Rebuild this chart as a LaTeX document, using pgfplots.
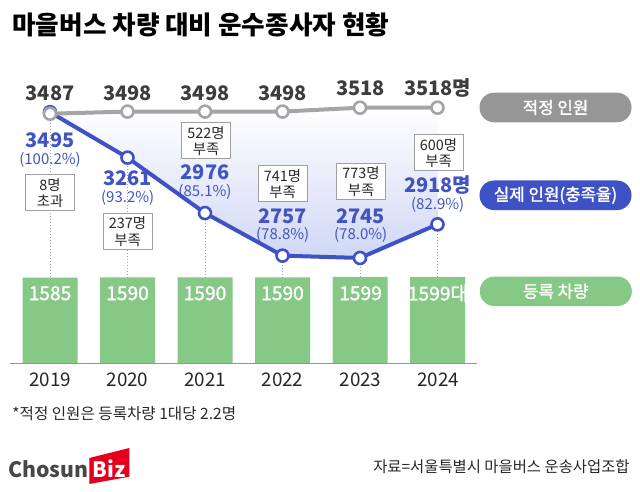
\documentclass[border=0pt]{standalone}
\usepackage{fontspec}
\setmainfont{Noto Sans CJK KR}
\newfontfamily\medfont{Noto Sans CJK KR}[FakeBold=1.6]
\usepackage{pgfplots}
\pgfplotsset{compat=1.18}

\definecolor{barG}{RGB}{134,200,134}
\definecolor{lineG}{RGB}{165,165,165}
\definecolor{pillG}{RGB}{150,150,150}
\definecolor{lineB}{RGB}{62,82,198}
\definecolor{txtB}{RGB}{66,84,192}
\definecolor{shadeB}{RGB}{208,215,245}
\definecolor{boxgray}{RGB}{160,160,160}
\definecolor{dark}{RGB}{40,40,40}
\definecolor{logoR}{RGB}{228,0,27}

\begin{document}
\begin{tikzpicture}
% whole canvas, 1px = 0.5pt
\path (0,0) rectangle (320pt,-245.5pt);

% bars (registered vehicles)
\begin{axis}[at={(5.625pt,-181.65pt)}, anchor=south west, scale only axis,
    width=232.5pt, height=151.5pt, xmin=-0.5, xmax=5.5, ymin=0, ymax=5602,
    hide axis, clip=false, ybar, bar width=27.5pt]
\addplot[fill=barG, draw=none] coordinates {
    (0,1585) (1,1590) (2,1590) (3,1590) (4,1599) (5,1599)};
\end{axis}

% staff lines
\begin{axis}[at={(5.625pt,-181.65pt)}, anchor=south west, scale only axis,
    width=232.5pt, height=151.5pt, xmin=-0.5, xmax=5.5, ymin=2203.2, ymax=3761.8,
    hide axis, clip=false]
\draw[densely dotted, lineG, line width=0.5pt] (axis cs:0,3487) -- (axis cs:0,2645);
\draw[densely dotted, lineG, line width=0.5pt] (axis cs:1,3498) -- (axis cs:1,2645);
\draw[densely dotted, lineG, line width=0.5pt] (axis cs:2,3498) -- (axis cs:2,2645);
\draw[densely dotted, lineG, line width=0.5pt] (axis cs:3,3498) -- (axis cs:3,2645);
\draw[densely dotted, lineG, line width=0.5pt] (axis cs:4,3518) -- (axis cs:4,2645);
\draw[densely dotted, lineG, line width=0.5pt] (axis cs:5,3518) -- (axis cs:5,2645);
% gap between required and actual
\addplot[draw=none, top color=white, bottom color=shadeB] coordinates {
    (0,3487) (1,3498) (2,3498) (3,3498) (4,3518) (5,3518)
    (5,2918) (4,2745) (3,2757) (2,2976) (1,3261) (0,3495)} -- cycle;
% actual staff
\addplot[lineB, line width=2pt, mark=*, mark size=3pt,
    mark options={fill=white, draw=lineB, line width=1.3pt}] coordinates {
    (0,3495) (1,3261) (2,2976) (3,2757) (4,2745) (5,2918)};
% required staff
\addplot[lineG, line width=2pt, mark=*, mark size=3pt,
    mark options={fill=white, draw=lineG, line width=1.3pt}] coordinates {
    (0,3487) (1,3498) (2,3498) (3,3498) (4,3518) (5,3518)};
\end{axis}

\begin{scope}[x=0.5pt, y=-0.5pt]
% baseline
\draw[lineG!90!black, line width=0.6pt] (10,363.3) -- (477,363.3);

% title
\node[anchor=west, inner sep=0, font=\fontsize{12.8}{14}\selectfont\bfseries, text=black]
    at (12,25) {마을버스 차량 대비 운수종사자 현황};

% required staff labels
\begin{scope}[every node/.style={font=\fontsize{10}{12}\selectfont\bfseries, text=dark!90!white, inner sep=0}]
\node at (50,93) {3487};
\node at (127.7,93) {3498};
\node at (205,93) {3498};
\node at (282.7,93) {3498};
\node at (360.7,88) {3518};
\node at (437.7,88) {3518명};
\end{scope}

% actual staff labels
\begin{scope}[every node/.style={font=\fontsize{10}{12}\selectfont\bfseries, text=txtB, inner sep=0}]
\node at (50,140) {3495};
\node at (127.7,178.3) {3261};
\node at (205,172.7) {2976};
\node at (282.7,216) {2757};
\node at (360.7,216) {2745};
\node at (437.7,185) {2918명};
\end{scope}
\begin{scope}[every node/.style={font=\fontsize{7.5}{9}\selectfont, text=txtB, inner sep=0}]
\node at (50,159.5) {(100.2\%)};
\node at (127.7,198) {(93.2\%)};
\node at (205,191.7) {(85.1\%)};
\node at (282.7,235) {(78.8\%)};
\node at (360.7,235) {(78.0\%)};
\node at (437.7,205) {(82.9\%)};
\end{scope}

% gap boxes
\begin{scope}[every node/.style={draw=boxgray, fill=white, line width=0.5pt,
    minimum width=24.5pt, minimum height=18pt, inner sep=0, align=center,
    text=dark, font=\fontsize{7.2}{8.3}\selectfont}]
\node at (50,193) {8명\\초과};
\node at (127.5,231.5) {237명\\부족};
\node at (206,141) {522명\\부족};
\node at (282.5,184) {741명\\부족};
\node at (361,181.7) {773명\\부족};
\node at (438.5,153) {600명\\부족};
\end{scope}

% bar labels
\begin{scope}[every node/.style={font=\medfont\fontsize{9.6}{12}\selectfont, text=white, inner sep=0}]
\node at (50,293.3) {1585};
\node at (127.5,293.3) {1590};
\node at (205,293.3) {1590};
\node at (282.5,293.3) {1590};
\node at (360.5,293.3) {1599};
\node at (438,293.3) {1599대};
\end{scope}

% years
\begin{scope}[every node/.style={font=\fontsize{9.4}{11}\selectfont, text=black!85, inner sep=0}]
\node at (50,380) {2019};
\node at (127.5,380) {2020};
\node at (205,380) {2021};
\node at (282.5,380) {2022};
\node at (360.5,380) {2023};
\node at (438,380) {2024};
\end{scope}

% legend pills
\begin{scope}[every node/.style={rounded corners=7.3pt, minimum width=76pt,
    minimum height=14.8pt, inner sep=0, text=white, font=\medfont\fontsize{8.4}{10}\selectfont}]
\node[fill=pillG] at (555.5,107.5) {적정 인원};
\node[fill=lineB] at (555.5,195.3) {실제 인원(충족율)};
\node[fill=barG] at (555.8,291.3) {등록 차량};
\end{scope}

% footnote and source
\node[anchor=west, inner sep=0, font=\fontsize{7.8}{9}\selectfont, text=dark]
    at (12,414) {*적정 인원은 등록차량 1대당 2.2명};
\node[anchor=east, inner sep=0, font=\fontsize{7.7}{9}\selectfont, text=dark]
    at (630,467) {자료=서울특별시 마을버스 운송사업조합};

% logo
\fill[logoR] (89.3,458) -- (129.3,448) -- (129.3,476.7) -- (89.3,484) -- cycle;
\node[anchor=east, inner sep=0, font=\fontsize{10.6}{12}\selectfont\bfseries, text=black!72]
    at (88.5,469) {Chosun};
\node[inner sep=0, font=\fontsize{10.6}{12}\selectfont\bfseries, text=white]
    at (109,469) {Biz};
\end{scope}
\end{tikzpicture}
\end{document}
